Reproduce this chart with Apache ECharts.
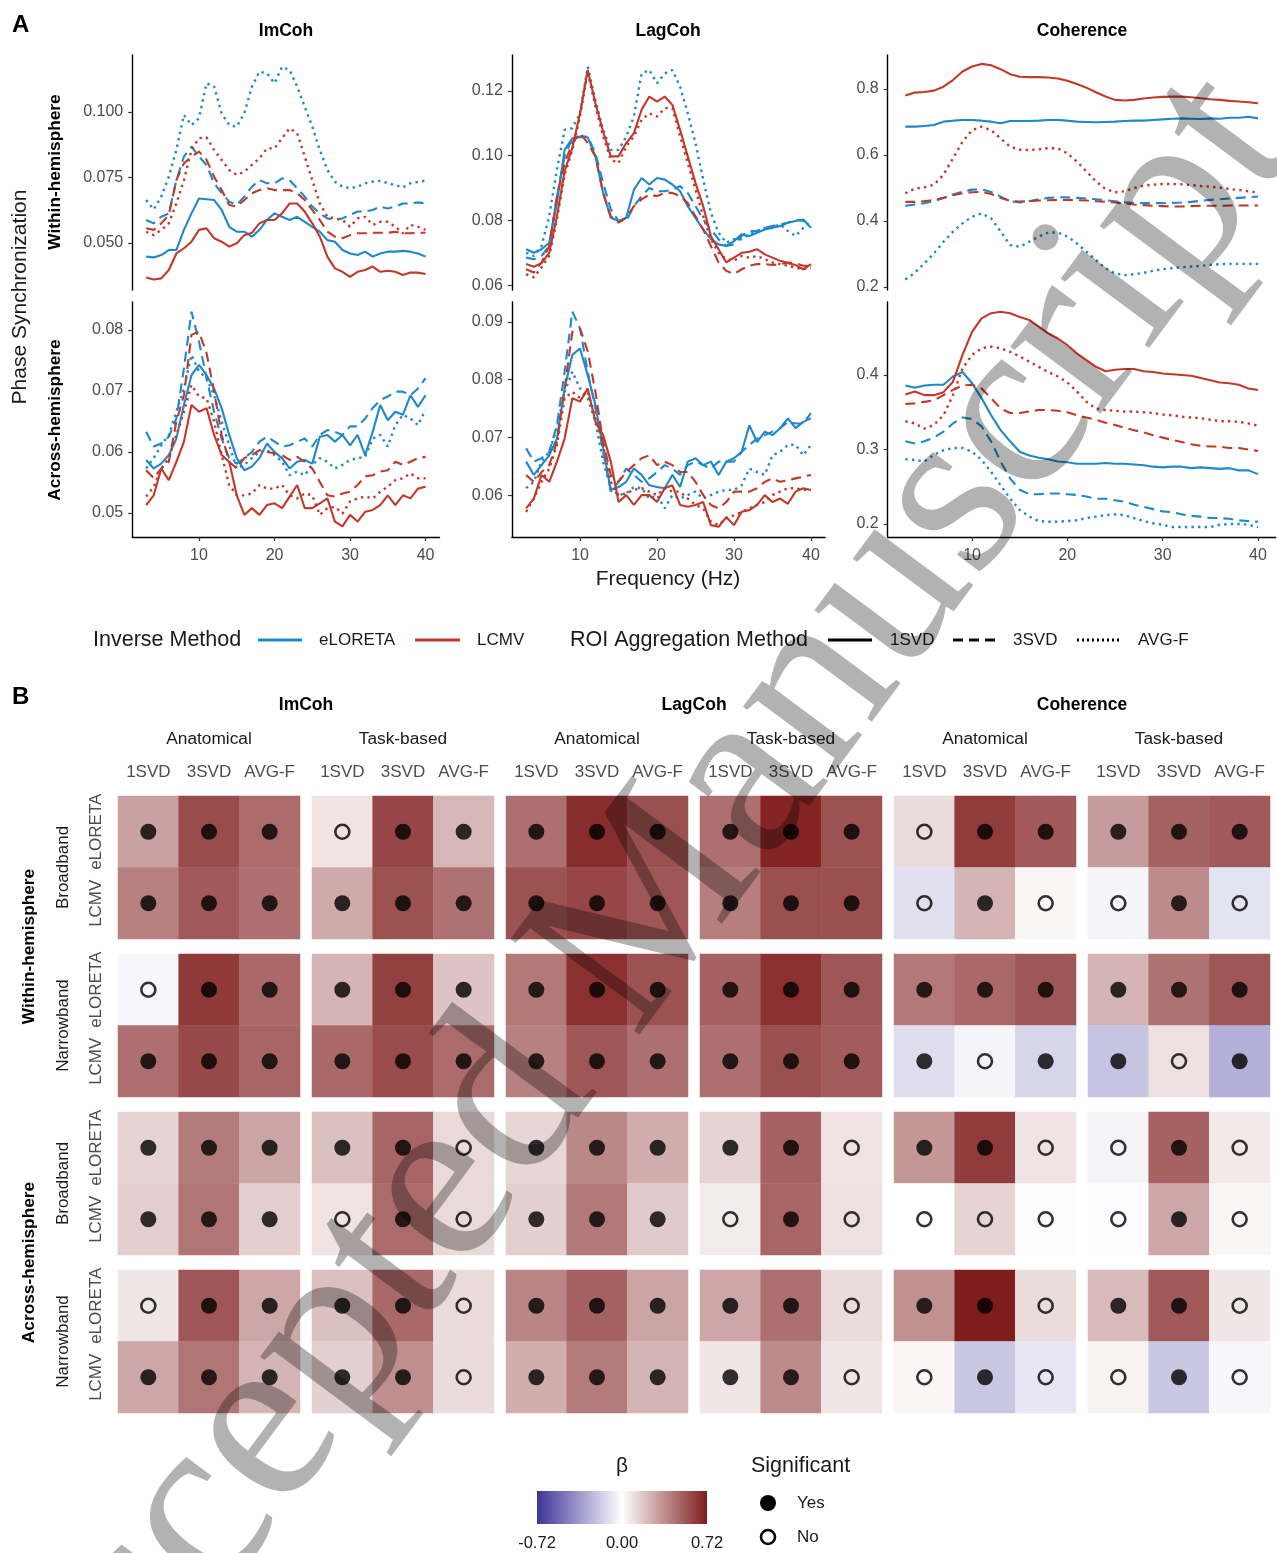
<!DOCTYPE html>
<html><head><meta charset="utf-8">
<script src="https://cdn.jsdelivr.net/npm/echarts@6/dist/echarts.min.js"></script>
<style>html,body{margin:0;padding:0;background:#fff}#c{width:1277px;height:1553px}</style>
</head><body><div id="c"></div>
<script>
// ---------------- DATA ----------------
const freqs = [3,4,5,6,7,8,9,10,11,12,13,14,15,16,17,18,19,20,21,22,23,24,25,26,27,28,29,30,31,32,33,34,35,36,37,38,39,40];

// ImCoh, within-hemisphere
const imcohWithinEL1SVD = [0.0448,0.0445,0.0454,0.0473,0.0473,0.0550,0.0613,0.0670,0.0667,0.0664,0.0626,0.0562,0.0543,0.0543,0.0524,0.0550,0.0588,0.0613,0.0600,0.0588,0.0600,0.0581,0.0562,0.0543,0.0511,0.0505,0.0473,0.0460,0.0454,0.0467,0.0448,0.0460,0.0467,0.0467,0.0470,0.0467,0.0460,0.0448];
const imcohWithinEL3SVD = [0.0588,0.0575,0.0600,0.0613,0.0740,0.0830,0.0868,0.0830,0.0798,0.0728,0.0690,0.0658,0.0645,0.0677,0.0715,0.0740,0.0728,0.0728,0.0747,0.0740,0.0709,0.0677,0.0639,0.0613,0.0594,0.0588,0.0594,0.0607,0.0620,0.0620,0.0626,0.0639,0.0632,0.0639,0.0651,0.0651,0.0655,0.0651];
const imcohWithinELAVG = [0.0664,0.0628,0.0677,0.0753,0.0855,0.0989,0.0950,0.0976,0.1110,0.1097,0.0995,0.0950,0.0944,0.0995,0.1097,0.1154,0.1148,0.1110,0.1173,0.1160,0.1097,0.1020,0.0944,0.0855,0.0779,0.0734,0.0715,0.0709,0.0715,0.0728,0.0734,0.0737,0.0728,0.0721,0.0712,0.0728,0.0733,0.0738];
const imcohWithinLC1SVD = [0.0368,0.0361,0.0365,0.0397,0.0460,0.0480,0.0505,0.0550,0.0556,0.0518,0.0505,0.0486,0.0499,0.0530,0.0539,0.0575,0.0588,0.0588,0.0613,0.0651,0.0651,0.0620,0.0575,0.0524,0.0448,0.0403,0.0390,0.0371,0.0390,0.0397,0.0410,0.0390,0.0394,0.0390,0.0378,0.0387,0.0387,0.0382];
const imcohWithinLC3SVD = [0.0556,0.0550,0.0575,0.0607,0.0740,0.0804,0.0830,0.0849,0.0817,0.0753,0.0702,0.0645,0.0639,0.0664,0.0690,0.0702,0.0709,0.0702,0.0702,0.0702,0.0690,0.0664,0.0626,0.0588,0.0543,0.0524,0.0518,0.0530,0.0537,0.0537,0.0539,0.0539,0.0539,0.0543,0.0537,0.0537,0.0539,0.0539];
const imcohWithinLCAVG = [0.0543,0.0530,0.0550,0.0575,0.0651,0.0740,0.0855,0.0900,0.0903,0.0855,0.0817,0.0779,0.0760,0.0772,0.0798,0.0823,0.0861,0.0861,0.0900,0.0938,0.0919,0.0830,0.0740,0.0651,0.0600,0.0594,0.0588,0.0562,0.0594,0.0600,0.0569,0.0581,0.0581,0.0562,0.0537,0.0569,0.0562,0.0550];

// ImCoh, across-hemisphere
const imcohAcrossEL1SVD = [0.0587,0.0573,0.0581,0.0595,0.0622,0.0677,0.0726,0.0743,0.0726,0.0704,0.0672,0.0628,0.0590,0.0570,0.0576,0.0590,0.0614,0.0600,0.0590,0.0573,0.0584,0.0587,0.0581,0.0625,0.0628,0.0617,0.0628,0.0611,0.0628,0.0595,0.0633,0.0677,0.0652,0.0666,0.0661,0.0693,0.0674,0.0693];
const imcohAcrossEL3SVD = [0.0633,0.0609,0.0614,0.0625,0.0655,0.0737,0.0830,0.0781,0.0721,0.0666,0.0622,0.0590,0.0581,0.0590,0.0600,0.0617,0.0625,0.0617,0.0609,0.0611,0.0617,0.0622,0.0609,0.0628,0.0636,0.0633,0.0628,0.0642,0.0642,0.0655,0.0672,0.0685,0.0691,0.0699,0.0699,0.0693,0.0704,0.0721];
const imcohAcrossELAVG = [0.0573,0.0590,0.0611,0.0628,0.0666,0.0704,0.0759,0.0732,0.0721,0.0693,0.0650,0.0611,0.0573,0.0579,0.0590,0.0600,0.0603,0.0595,0.0584,0.0562,0.0568,0.0562,0.0579,0.0590,0.0584,0.0573,0.0579,0.0587,0.0590,0.0592,0.0622,0.0628,0.0609,0.0644,0.0661,0.0655,0.0644,0.0669];
const imcohAcrossLC1SVD = [0.0513,0.0529,0.0573,0.0554,0.0584,0.0617,0.0677,0.0666,0.0672,0.0628,0.0595,0.0584,0.0529,0.0497,0.0508,0.0497,0.0513,0.0516,0.0508,0.0527,0.0546,0.0508,0.0508,0.0516,0.0524,0.0486,0.0478,0.0497,0.0486,0.0502,0.0505,0.0513,0.0529,0.0513,0.0529,0.0524,0.0540,0.0543];
const imcohAcrossLC3SVD = [0.0570,0.0557,0.0573,0.0584,0.0650,0.0693,0.0792,0.0797,0.0762,0.0699,0.0628,0.0584,0.0573,0.0590,0.0595,0.0603,0.0600,0.0598,0.0595,0.0587,0.0592,0.0584,0.0573,0.0551,0.0529,0.0527,0.0532,0.0535,0.0546,0.0560,0.0562,0.0568,0.0570,0.0584,0.0579,0.0584,0.0590,0.0592];
const imcohAcrossLCAVG = [0.0527,0.0543,0.0573,0.0590,0.0628,0.0666,0.0710,0.0691,0.0688,0.0650,0.0595,0.0546,0.0529,0.0529,0.0532,0.0546,0.0540,0.0540,0.0546,0.0529,0.0524,0.0532,0.0529,0.0497,0.0508,0.0510,0.0499,0.0519,0.0524,0.0527,0.0524,0.0535,0.0543,0.0554,0.0557,0.0565,0.0557,0.0557];

// LagCoh, within-hemisphere
const lagcohWithinEL1SVD = [0.0711,0.0700,0.0711,0.0731,0.0854,0.1018,0.1054,0.1057,0.1057,0.0998,0.0885,0.0808,0.0798,0.0808,0.0895,0.0931,0.0911,0.0931,0.0926,0.0911,0.0890,0.0844,0.0808,0.0772,0.0742,0.0726,0.0721,0.0736,0.0757,0.0752,0.0762,0.0772,0.0777,0.0783,0.0793,0.0798,0.0803,0.0777];
const lagcohWithinEL3SVD = [0.0685,0.0680,0.0690,0.0721,0.0875,0.0998,0.1054,0.1059,0.1059,0.1008,0.0916,0.0834,0.0798,0.0798,0.0844,0.0875,0.0900,0.0890,0.0890,0.0895,0.0906,0.0885,0.0844,0.0803,0.0772,0.0742,0.0721,0.0726,0.0752,0.0767,0.0767,0.0777,0.0783,0.0788,0.0793,0.0803,0.0798,0.0793];
const lagcohWithinELAVG = [0.0700,0.0690,0.0721,0.0813,0.0957,0.1080,0.1085,0.1131,0.1275,0.1172,0.1080,0.1018,0.1018,0.1059,0.1121,0.1254,0.1265,0.1224,0.1254,0.1265,0.1213,0.1131,0.1039,0.0926,0.0824,0.0762,0.0731,0.0742,0.0742,0.0757,0.0767,0.0777,0.0777,0.0788,0.0767,0.0752,0.0777,0.0798];
const lagcohWithinLC1SVD = [0.0665,0.0657,0.0668,0.0700,0.0813,0.0952,0.1024,0.1131,0.1265,0.1162,0.1075,0.0998,0.0998,0.1039,0.1070,0.1142,0.1183,0.1167,0.1183,0.1157,0.1080,0.0998,0.0916,0.0844,0.0752,0.0711,0.0670,0.0685,0.0700,0.0703,0.0711,0.0695,0.0685,0.0675,0.0668,0.0662,0.0649,0.0665];
const lagcohWithinLC3SVD = [0.0649,0.0639,0.0670,0.0721,0.0875,0.0977,0.1039,0.1070,0.1039,0.0998,0.0885,0.0813,0.0793,0.0808,0.0844,0.0865,0.0880,0.0875,0.0885,0.0885,0.0875,0.0854,0.0813,0.0772,0.0721,0.0670,0.0644,0.0634,0.0649,0.0660,0.0665,0.0665,0.0662,0.0665,0.0670,0.0668,0.0660,0.0660];
const lagcohWithinLCAVG = [0.0634,0.0624,0.0655,0.0690,0.0803,0.0942,0.1018,0.1121,0.1260,0.1152,0.1060,0.0988,0.0977,0.1029,0.1060,0.1111,0.1131,0.1121,0.1147,0.1147,0.1060,0.0977,0.0895,0.0813,0.0742,0.0700,0.0680,0.0675,0.0690,0.0685,0.0690,0.0680,0.0670,0.0665,0.0660,0.0654,0.0649,0.0654];

// LagCoh, across-hemisphere
const lagcohAcrossEL1SVD = [0.0658,0.0635,0.0652,0.0669,0.0698,0.0785,0.0843,0.0854,0.0808,0.0756,0.0681,0.0609,0.0614,0.0623,0.0646,0.0635,0.0617,0.0614,0.0612,0.0635,0.0614,0.0658,0.0664,0.0652,0.0658,0.0635,0.0658,0.0664,0.0675,0.0721,0.0692,0.0710,0.0704,0.0716,0.0733,0.0716,0.0727,0.0733];
const lagcohAcrossEL3SVD = [0.0681,0.0658,0.0664,0.0675,0.0721,0.0814,0.0918,0.0889,0.0814,0.0750,0.0675,0.0606,0.0623,0.0646,0.0635,0.0623,0.0629,0.0640,0.0652,0.0646,0.0635,0.0652,0.0658,0.0652,0.0646,0.0658,0.0658,0.0658,0.0675,0.0687,0.0698,0.0704,0.0710,0.0716,0.0727,0.0724,0.0724,0.0742];
const lagcohAcrossELAVG = [0.0612,0.0623,0.0658,0.0675,0.0716,0.0779,0.0814,0.0785,0.0768,0.0727,0.0658,0.0612,0.0600,0.0603,0.0614,0.0612,0.0594,0.0600,0.0577,0.0600,0.0594,0.0600,0.0606,0.0594,0.0600,0.0606,0.0609,0.0609,0.0617,0.0646,0.0640,0.0635,0.0669,0.0675,0.0687,0.0687,0.0669,0.0687];
const lagcohAcrossLC1SVD = [0.0577,0.0594,0.0635,0.0623,0.0658,0.0698,0.0768,0.0762,0.0785,0.0727,0.0704,0.0658,0.0588,0.0600,0.0583,0.0600,0.0600,0.0588,0.0612,0.0617,0.0583,0.0580,0.0583,0.0588,0.0548,0.0545,0.0562,0.0548,0.0571,0.0574,0.0583,0.0600,0.0588,0.0594,0.0585,0.0606,0.0612,0.0609];
const lagcohAcrossLC3SVD = [0.0635,0.0623,0.0640,0.0652,0.0692,0.0785,0.0883,0.0889,0.0849,0.0779,0.0692,0.0635,0.0623,0.0640,0.0652,0.0664,0.0669,0.0652,0.0658,0.0652,0.0640,0.0640,0.0623,0.0600,0.0583,0.0577,0.0588,0.0606,0.0606,0.0606,0.0612,0.0623,0.0629,0.0623,0.0626,0.0629,0.0632,0.0635];
const lagcohAcrossLCAVG = [0.0571,0.0594,0.0623,0.0646,0.0687,0.0768,0.0779,0.0768,0.0779,0.0733,0.0687,0.0623,0.0600,0.0603,0.0609,0.0612,0.0606,0.0600,0.0612,0.0606,0.0606,0.0594,0.0583,0.0577,0.0554,0.0548,0.0560,0.0565,0.0571,0.0577,0.0583,0.0588,0.0600,0.0606,0.0612,0.0612,0.0609,0.0609];

// Coherence, within-hemisphere
const cohWithinEL1SVD = [0.686,0.686,0.688,0.691,0.701,0.704,0.706,0.706,0.704,0.701,0.696,0.703,0.703,0.703,0.704,0.706,0.706,0.704,0.701,0.700,0.699,0.700,0.701,0.703,0.704,0.704,0.706,0.708,0.710,0.711,0.710,0.709,0.711,0.710,0.713,0.713,0.716,0.711];
const cohWithinEL3SVD = [0.446,0.450,0.454,0.460,0.470,0.480,0.489,0.495,0.496,0.488,0.474,0.460,0.456,0.460,0.466,0.470,0.472,0.472,0.470,0.468,0.466,0.463,0.460,0.457,0.455,0.454,0.454,0.454,0.455,0.456,0.458,0.461,0.464,0.466,0.468,0.470,0.472,0.474];
const cohWithinELAVG = [0.223,0.243,0.272,0.302,0.337,0.368,0.393,0.413,0.423,0.408,0.368,0.327,0.322,0.337,0.353,0.365,0.365,0.353,0.332,0.307,0.282,0.257,0.241,0.236,0.239,0.243,0.249,0.254,0.257,0.260,0.262,0.264,0.267,0.269,0.270,0.270,0.270,0.270];
const cohWithinLC1SVD = [0.780,0.789,0.791,0.795,0.807,0.827,0.853,0.868,0.876,0.872,0.860,0.845,0.837,0.836,0.836,0.835,0.832,0.825,0.815,0.804,0.790,0.777,0.767,0.765,0.767,0.771,0.774,0.776,0.777,0.777,0.775,0.772,0.769,0.767,0.764,0.762,0.760,0.757];
const cohWithinLC3SVD = [0.458,0.458,0.460,0.464,0.470,0.478,0.484,0.487,0.488,0.482,0.470,0.461,0.459,0.460,0.462,0.463,0.464,0.464,0.463,0.462,0.460,0.458,0.456,0.453,0.450,0.448,0.446,0.445,0.444,0.444,0.445,0.446,0.446,0.446,0.447,0.447,0.447,0.447];
const cohWithinLCAVG = [0.484,0.498,0.502,0.510,0.540,0.590,0.640,0.675,0.686,0.675,0.650,0.625,0.616,0.615,0.617,0.621,0.620,0.605,0.580,0.550,0.520,0.497,0.487,0.490,0.500,0.507,0.510,0.512,0.512,0.511,0.509,0.506,0.504,0.501,0.497,0.494,0.490,0.486];

// Coherence, across-hemisphere
const cohAcrossEL1SVD = [0.386,0.383,0.386,0.387,0.387,0.398,0.404,0.389,0.369,0.346,0.326,0.311,0.297,0.292,0.289,0.287,0.284,0.283,0.281,0.281,0.281,0.282,0.281,0.281,0.280,0.279,0.277,0.276,0.277,0.277,0.275,0.276,0.275,0.274,0.275,0.272,0.272,0.267];
const cohAcrossEL3SVD = [0.311,0.308,0.311,0.316,0.324,0.335,0.343,0.341,0.331,0.311,0.284,0.261,0.246,0.240,0.240,0.241,0.241,0.240,0.239,0.237,0.234,0.234,0.232,0.230,0.226,0.223,0.220,0.217,0.216,0.213,0.211,0.210,0.208,0.208,0.207,0.205,0.204,0.203];
const cohAcrossELAVG = [0.287,0.286,0.284,0.293,0.299,0.302,0.302,0.297,0.286,0.270,0.252,0.234,0.219,0.210,0.204,0.203,0.203,0.204,0.205,0.208,0.210,0.212,0.213,0.212,0.208,0.204,0.201,0.199,0.196,0.196,0.196,0.196,0.196,0.199,0.200,0.200,0.199,0.196];
const cohAcrossLC1SVD = [0.374,0.378,0.373,0.373,0.377,0.391,0.427,0.458,0.476,0.483,0.485,0.483,0.478,0.474,0.465,0.456,0.449,0.440,0.429,0.420,0.411,0.405,0.407,0.408,0.408,0.405,0.404,0.402,0.401,0.400,0.399,0.396,0.393,0.390,0.389,0.387,0.382,0.380];
const cohAcrossLC3SVD = [0.361,0.362,0.364,0.366,0.373,0.380,0.386,0.387,0.382,0.369,0.355,0.349,0.349,0.351,0.353,0.353,0.352,0.350,0.346,0.343,0.340,0.336,0.333,0.329,0.326,0.323,0.319,0.316,0.313,0.310,0.307,0.305,0.304,0.304,0.302,0.302,0.300,0.298];
const cohAcrossLCAVG = [0.338,0.335,0.328,0.333,0.346,0.373,0.409,0.427,0.436,0.438,0.436,0.431,0.425,0.418,0.411,0.404,0.398,0.390,0.378,0.364,0.355,0.353,0.352,0.351,0.351,0.350,0.349,0.347,0.346,0.344,0.343,0.342,0.340,0.338,0.338,0.337,0.335,0.332];

// Y tick values of each line panel
const imcohWithinTicks = [0.050, 0.075, 0.100];
const imcohAcrossTicks = [0.05, 0.06, 0.07, 0.08];
const lagcohWithinTicks = [0.06, 0.08, 0.10, 0.12];
const lagcohAcrossTicks = [0.06, 0.07, 0.08, 0.09];
const cohWithinTicks = [0.2, 0.4, 0.6, 0.8];
const cohAcrossTicks = [0.2, 0.3, 0.4];
const freqTicks = [10, 20, 30, 40];

// Labels
const measures = ['ImCoh', 'LagCoh', 'Coherence'];
const hemispheres = ['Within-hemisphere', 'Across-hemisphere'];
const inverseMethods = ['eLORETA', 'LCMV'];
const aggregations = ['1SVD', '3SVD', 'AVG-F'];
const roiSets = ['Anatomical', 'Task-based'];
const bands = ['Broadband', 'Narrowband'];

// Panel B: beta per row (Within-Broad eLORETA, Within-Broad LCMV, Within-Narrow eLORETA, Within-Narrow LCMV,
// Across-Broad eLORETA, Across-Broad LCMV, Across-Narrow eLORETA, Across-Narrow LCMV)
// columns: Anatomical 1SVD,3SVD,AVG-F, Task-based 1SVD,3SVD,AVG-F
const betaImCoh = [
  [0.30,0.57,0.47, 0.09,0.59,0.23],
  [0.40,0.53,0.46, 0.27,0.55,0.45],
  [-0.03,0.63,0.48, 0.24,0.61,0.19],
  [0.46,0.58,0.49, 0.48,0.57,0.47],
  [0.14,0.42,0.29, 0.20,0.49,0.12],
  [0.16,0.44,0.16, 0.09,0.47,0.12],
  [0.08,0.54,0.28, 0.20,0.48,0.11],
  [0.28,0.44,0.24, 0.15,0.36,0.11]
];
const sigImCoh = [
  [1,1,1, 0,1,1],
  [1,1,1, 1,1,1],
  [0,1,1, 1,1,1],
  [1,1,1, 1,1,1],
  [1,1,1, 1,1,0],
  [1,1,1, 0,1,0],
  [0,1,1, 1,1,0],
  [1,1,1, 1,1,0]
];
const betaLagCoh = [
  [0.46,0.67,0.56, 0.46,0.70,0.55],
  [0.55,0.59,0.54, 0.41,0.56,0.56],
  [0.43,0.66,0.55, 0.50,0.66,0.54],
  [0.40,0.54,0.46, 0.46,0.56,0.52],
  [0.13,0.38,0.26, 0.14,0.50,0.09],
  [0.15,0.43,0.17, 0.06,0.49,0.10],
  [0.39,0.50,0.29, 0.28,0.46,0.11],
  [0.26,0.42,0.24, 0.08,0.37,0.08]
];
const sigLagCoh = [
  [1,1,1, 1,1,1],
  [1,1,1, 1,1,1],
  [1,1,1, 1,1,1],
  [1,1,1, 1,1,1],
  [1,1,1, 1,1,0],
  [1,1,1, 0,1,0],
  [1,1,1, 1,1,0],
  [1,1,1, 1,1,0]
];
const betaCoherence = [
  [0.11,0.62,0.53, 0.32,0.50,0.53],
  [-0.11,0.24,0.03, -0.04,0.37,-0.10],
  [0.43,0.48,0.54, 0.24,0.45,0.54],
  [-0.12,-0.04,-0.15, -0.21,0.10,-0.28],
  [0.33,0.62,0.09, -0.04,0.50,0.07],
  [0.00,0.14,0.01, -0.01,0.28,0.03],
  [0.35,0.72,0.11, 0.22,0.53,0.08],
  [0.03,-0.20,-0.09, 0.04,-0.20,-0.03]
];
const sigCoherence = [
  [0,1,1, 1,1,1],
  [0,1,0, 0,1,0],
  [1,1,1, 1,1,1],
  [1,0,1, 1,0,1],
  [1,1,0, 0,1,0],
  [0,0,0, 0,1,0],
  [1,1,0, 1,1,0],
  [0,1,0, 0,1,0]
];
const betaLimits = [-0.72, 0.00, 0.72];

// ---------------- STYLE / LAYOUT ----------------
const FONT = '"Liberation Sans", Arial, Helvetica, sans-serif';
const methodColor = ['#1F88C9', '#C1392B'];
const aggDash = ['solid', [10, 6], [2.4, 4.2]];
const lowCol = '#3F3497', highCol = '#7F1D1D';
const axisGrey = '#4D4D4D';

const colLeft = [132.2, 511.9, 887.7];
const colWidth = [307.3, 313.3, 387.9];
const rowTop = [55, 302];
const rowH = 235;

const linePanels = [
  {col:0,row:0,lines:[imcohWithinEL1SVD,imcohWithinEL3SVD,imcohWithinELAVG,imcohWithinLC1SVD,imcohWithinLC3SVD,imcohWithinLCAVG],yr:[0.03206,0.12176],ticks:imcohWithinTicks,dec:3},
  {col:0,row:1,lines:[imcohAcrossEL1SVD,imcohAcrossEL3SVD,imcohAcrossELAVG,imcohAcrossLC1SVD,imcohAcrossLC3SVD,imcohAcrossLCAVG],yr:[0.04607,0.08459],ticks:imcohAcrossTicks,dec:2},
  {col:1,row:0,lines:[lagcohWithinEL1SVD,lagcohWithinEL3SVD,lagcohWithinELAVG,lagcohWithinLC1SVD,lagcohWithinLC3SVD,lagcohWithinLCAVG],yr:[0.05849,0.13113],ticks:lagcohWithinTicks,dec:2},
  {col:1,row:1,lines:[lagcohAcrossEL1SVD,lagcohAcrossEL3SVD,lagcohAcrossELAVG,lagcohAcrossLC1SVD,lagcohAcrossLC3SVD,lagcohAcrossLCAVG],yr:[0.05274,0.09347],ticks:lagcohAcrossTicks,dec:2},
  {col:2,row:0,lines:[cohWithinEL1SVD,cohWithinEL3SVD,cohWithinELAVG,cohWithinLC1SVD,cohWithinLC3SVD,cohWithinLCAVG],yr:[0.1909,0.9030],ticks:cohWithinTicks,dec:1},
  {col:2,row:1,lines:[cohAcrossEL1SVD,cohAcrossEL3SVD,cohAcrossELAVG,cohAcrossLC1SVD,cohAcrossLC3SVD,cohAcrossLCAVG],yr:[0.1826,0.4980],ticks:cohAcrossTicks,dec:1}
];

const grids = [], xAxes = [], yAxes = [], series = [], graphics = [];

linePanels.forEach((p, i) => {
  grids.push({left: colLeft[p.col], top: rowTop[p.row], width: colWidth[p.col], height: rowH, containLabel: false});
  const bottom = p.row === 1;
  xAxes.push({
    type:'value', gridIndex:i, min:1.15, max:41.85,
    axisLine:{show:bottom, onZero:false, lineStyle:{color:'#000', width:1.4}},
    axisTick:{show:bottom, length:4, customValues:freqTicks, lineStyle:{color:'#333', width:1.2}},
    axisLabel:{show:bottom, customValues:freqTicks, color:axisGrey, fontSize:16, fontFamily:FONT, margin:11},
    splitLine:{show:false}
  });
  yAxes.push({
    type:'value', gridIndex:i, min:p.yr[0], max:p.yr[1],
    axisLine:{show:true, onZero:false, lineStyle:{color:'#000', width:1.4}},
    axisTick:{show:true, length:4, customValues:p.ticks, lineStyle:{color:'#333', width:1.2}},
    axisLabel:{show:true, customValues:p.ticks, color:axisGrey, fontSize:16, fontFamily:FONT, margin:9,
      formatter:(v)=>Number(v).toFixed(p.dec)},
    splitLine:{show:false}
  });
  p.lines.forEach((arr, s) => {
    const m = s < 3 ? 0 : 1, a = s % 3;
    series.push({
      type:'line', xAxisIndex:i, yAxisIndex:i, showSymbol:false, symbol:'none', silent:true,
      data: freqs.map((f, k) => [f, arr[k]]),
      lineStyle:{color:methodColor[m], width:a === 2 ? 2.4 : 2.1, type:aggDash[a]},
      z: 2
    });
  });
});

// ---------------- PANEL B heatmaps ----------------
const blockLeft = [118, 312, 506, 700, 894, 1088];
const blockW = 182;
const groupTop = [796, 954, 1112, 1270];
const groupH = 143;
const betaByMeasure = [betaImCoh, betaLagCoh, betaCoherence];
const sigByMeasure = [sigImCoh, sigLagCoh, sigCoherence];
const heatIdx = [];

for (let m = 0; m < 3; m++) {
  for (let r = 0; r < 2; r++) {
    const b = m * 2 + r;
    for (let g = 0; g < 4; g++) {
      const gi = grids.length;
      grids.push({left: blockLeft[b], top: groupTop[g], width: blockW, height: groupH});
      xAxes.push({type:'category', gridIndex:gi, data:aggregations, show:false});
      yAxes.push({type:'category', gridIndex:gi, data:inverseMethods, inverse:true, show:false});
      const hd = [], sd = [];
      for (let k = 0; k < 2; k++) {
        for (let j = 0; j < 3; j++) {
          const row = 2 * g + k, colI = r * 3 + j;
          hd.push([j, k, betaByMeasure[m][row][colI]]);
          const sig = sigByMeasure[m][row][colI] === 1;
          sd.push({value:[j, k], symbolSize: sig ? 16 : 14,
            itemStyle: sig ? {color:'#000', borderWidth:0} : {color:'rgba(0,0,0,0)', borderColor:'#000', borderWidth:2.6}});
        }
      }
      heatIdx.push(series.length);
      series.push({type:'heatmap', xAxisIndex:gi, yAxisIndex:gi, data:hd, silent:true, itemStyle:{borderWidth:0}, z:2});
      series.push({type:'scatter', xAxisIndex:gi, yAxisIndex:gi, data:sd, symbol:'circle', silent:true, z:3});
    }
  }
}

// ---------------- TEXT / GRAPHICS ----------------
function T(x, y, text, size, o) {
  o = o || {};
  const al = o.align || 'center';
  return {type:'text', x:x, y:y, rotation:o.rot || 0, z:o.z || 20, silent:true,
    style:{text:text, fontSize:size, fontFamily:o.family || FONT, fontWeight:o.bold ? 'bold' : 'normal',
      fill:o.color || '#1a1a1a', align:al, verticalAlign:'middle', textAlign:al, textVerticalAlign:'middle'}};
}
function L(x1, y1, x2, y2, color, w, dash) {
  return {type:'line', z:20, silent:true, shape:{x1:x1, y1:y1, x2:x2, y2:y2},
    style:{stroke:color, lineWidth:w, lineDash:dash || null}};
}
const V = Math.PI / 2;

// Panel A texts
graphics.push(T(12, 25, 'A', 24, {bold:true, align:'left', color:'#000'}));
const aTitleX = [286, 668, 1082];
measures.forEach((t, i) => graphics.push(T(aTitleX[i], 31, t, 17.5, {bold:true, color:'#000'})));
graphics.push(T(55, 172, hemispheres[0], 17.3, {bold:true, rot:V, color:'#000'}));
graphics.push(T(55, 420, hemispheres[1], 17.3, {bold:true, rot:V, color:'#000'}));
graphics.push(T(20, 297, 'Phase Synchronization', 21, {rot:V}));
graphics.push(T(668, 579, 'Frequency (Hz)', 21));

// Panel A legend
graphics.push(T(93, 640, 'Inverse Method', 21.5, {align:'left'}));
graphics.push(L(258, 640, 302, 640, methodColor[0], 3));
graphics.push(T(319, 640, inverseMethods[0], 17, {align:'left'}));
graphics.push(L(415, 640, 460, 640, methodColor[1], 3));
graphics.push(T(477, 640, inverseMethods[1], 17, {align:'left'}));
graphics.push(T(570, 640, 'ROI Aggregation Method', 21.5, {align:'left'}));
graphics.push(L(828, 640, 872, 640, '#000', 3));
graphics.push(T(890, 640, aggregations[0], 17, {align:'left'}));
graphics.push(L(953, 640, 997, 640, '#000', 3, [10, 6]));
graphics.push(T(1013, 640, aggregations[1], 17, {align:'left'}));
graphics.push(L(1077, 640, 1121, 640, '#000', 3, [2, 3]));
graphics.push(T(1138, 640, aggregations[2], 17, {align:'left'}));

// Panel B texts
graphics.push(T(12, 697, 'B', 24, {bold:true, align:'left', color:'#000'}));
for (let m = 0; m < 3; m++) {
  const cx = (blockLeft[2*m] + blockLeft[2*m+1] + blockW) / 2;
  graphics.push(T(cx, 705, measures[m], 17.5, {bold:true, color:'#000'}));
  for (let r = 0; r < 2; r++) {
    const b = 2*m + r;
    graphics.push(T(blockLeft[b] + blockW/2, 739, roiSets[r], 17.3));
    for (let j = 0; j < 3; j++) {
      graphics.push(T(blockLeft[b] + blockW*(j+0.5)/3, 772, aggregations[j], 17, {color:axisGrey}));
    }
  }
}
for (let g = 0; g < 4; g++) {
  for (let k = 0; k < 2; k++) {
    graphics.push(T(96, groupTop[g] + groupH*(k+0.5)/2, inverseMethods[k], 17, {rot:V, color:axisGrey}));
  }
  graphics.push(T(63, groupTop[g] + groupH/2, bands[g % 2], 17, {rot:V}));
}
graphics.push(T(29, (groupTop[0] + groupTop[1] + groupH)/2, hemispheres[0], 17.3, {bold:true, rot:V, color:'#000'}));
graphics.push(T(29, (groupTop[2] + groupTop[3] + groupH)/2, hemispheres[1], 17.3, {bold:true, rot:V, color:'#000'}));

// Panel B legend: colour bar
graphics.push(T(622, 1466, 'β', 21));
graphics.push({type:'rect', z:20, silent:true, shape:{x:537, y:1491, width:170, height:33},
  style:{fill:{type:'linear', x:0, y:0, x2:1, y2:0, colorStops:[
    {offset:0, color:lowCol}, {offset:0.5, color:'#FFFFFF'}, {offset:1, color:highCol}]}}});
betaLimits.forEach((v, i) => graphics.push(T(537 + 85*i, 1543, v.toFixed(2), 16.5)));
graphics.push(T(751, 1466, 'Significant', 21.5, {align:'left'}));
graphics.push({type:'circle', z:20, silent:true, shape:{cx:768, cy:1503, r:8}, style:{fill:'#000'}});
graphics.push({type:'circle', z:20, silent:true, shape:{cx:768, cy:1537, r:7}, style:{fill:'none', stroke:'#000', lineWidth:2.6}});
graphics.push(T(797, 1503, 'Yes', 17, {align:'left'}));
graphics.push(T(797, 1537, 'No', 17, {align:'left'}));

// Watermark overlay
graphics.push({type:'text', x:622, y:950, rotation:53.4*Math.PI/180, z:100, silent:true,
  style:{text:'Accepted Manuscript', fontSize:245, fontFamily:'"Liberation Serif", "Times New Roman", serif',
    fill:'rgba(0,0,0,0.30)', align:'center', verticalAlign:'middle', textAlign:'center', textVerticalAlign:'middle'}});

const chart = echarts.init(document.getElementById('c'), null, {renderer:'canvas', width:1277, height:1553});
chart.setOption({
  animation:false,
  backgroundColor:'#ffffff',
  grid:grids, xAxis:xAxes, yAxis:yAxes,
  visualMap:{type:'continuous', show:false, min:betaLimits[0], max:betaLimits[2], dimension:2,
    seriesIndex:heatIdx, inRange:{color:[lowCol, '#FFFFFF', highCol]}},
  series:series,
  graphic:{elements:graphics}
});
</script>
</body></html>
